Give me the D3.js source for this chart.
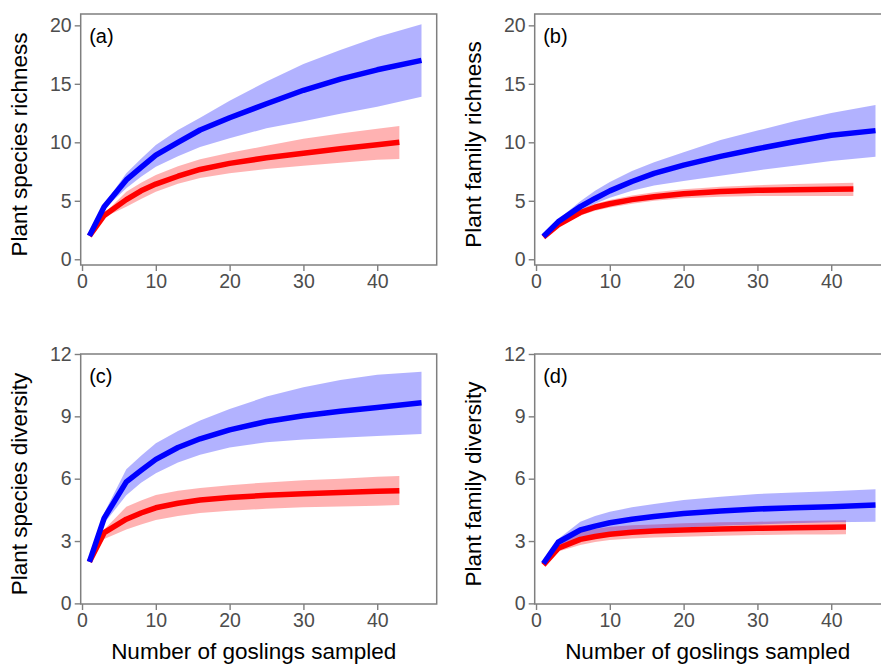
<!DOCTYPE html>
<html>
<head>
<meta charset="utf-8">
<script src="https://cdn.jsdelivr.net/npm/d3@7"></script>
<style>
  body { margin: 0; background: #fff; }
  svg { display: block; font-family: "Liberation Sans", Arial, sans-serif; }
</style>
</head>
<body>
<svg width="881" height="664"></svg>
<script>
// sample sizes (number of goslings) at which the curves were read
const xBlue = [1, 3, 6, 8, 10, 13, 16, 20, 25, 30, 35, 40, 46];
const xRed = [1, 3, 6, 8, 10, 13, 16, 20, 25, 30, 35, 40, 43];
const xRedD = [1, 3, 6, 8, 10, 13, 16, 20, 25, 30, 35, 40, 42];

const xTicks = [0, 10, 20, 30, 40];
const yTicksRich = [0, 5, 10, 15, 20];
const yTicksDiv = [0, 3, 6, 9, 12];

// (a) plant species richness
const aBlue = [2.0, 4.5, 6.78, 7.85, 8.9, 10.0, 11.05, 12.1, 13.3, 14.45, 15.4, 16.2, 17.0];
const aBlueHi = [2.0, 4.7, 7.35, 8.6, 9.77, 11.05, 12.1, 13.55, 15.2, 16.7, 17.9, 19.0, 20.1];
const aBlueLo = [2.0, 4.3, 6.07, 7.05, 7.9, 8.8, 9.6, 10.35, 11.2, 11.8, 12.45, 13.05, 13.9];
const aRed = [2.0, 3.75, 5.1, 5.85, 6.43, 7.1, 7.68, 8.2, 8.68, 9.06, 9.45, 9.8, 10.0];
const aRedHi = [2.0, 3.9, 5.78, 6.55, 7.2, 7.95, 8.55, 9.1, 9.7, 10.3, 10.75, 11.15, 11.4];
const aRedLo = [2.0, 3.6, 4.5, 5.15, 5.78, 6.45, 6.95, 7.35, 7.72, 8.0, 8.25, 8.5, 8.57];

// (b) plant family richness
const bBlue = [1.95, 3.2, 4.5, 5.2, 5.85, 6.65, 7.35, 8.05, 8.8, 9.45, 10.05, 10.6, 11.0];
const bBlueHi = [1.95, 3.4, 4.95, 5.85, 6.6, 7.55, 8.3, 9.15, 10.2, 11.0, 11.8, 12.5, 13.2];
const bBlueLo = [1.95, 3.1, 4.2, 4.75, 5.25, 5.85, 6.3, 6.7, 7.15, 7.6, 8.0, 8.4, 8.77];
const bRed = [1.9, 2.95, 4.0, 4.45, 4.75, 5.1, 5.35, 5.6, 5.8, 5.9, 5.95, 5.98, 6.0];
const bRedHi = [1.9, 3.05, 4.25, 4.75, 5.07, 5.45, 5.72, 5.98, 6.2, 6.33, 6.43, 6.5, 6.55];
const bRedLo = [1.9, 2.85, 3.75, 4.15, 4.42, 4.75, 5.0, 5.22, 5.35, 5.4, 5.42, 5.42, 5.42];

// (c) plant species diversity
const cBlue = [2.0, 4.1, 5.85, 6.4, 6.93, 7.5, 7.92, 8.35, 8.75, 9.03, 9.25, 9.43, 9.65];
const cBlueHi = [2.0, 4.35, 6.45, 7.1, 7.7, 8.3, 8.8, 9.35, 9.95, 10.4, 10.75, 11.0, 11.15];
const cBlueLo = [2.0, 3.85, 5.2, 5.8, 6.26, 6.78, 7.15, 7.5, 7.75, 7.88, 7.97, 8.05, 8.15];
const cRed = [2.0, 3.4, 4.05, 4.35, 4.6, 4.82, 4.97, 5.1, 5.2, 5.28, 5.34, 5.39, 5.42];
const cRedHi = [2.0, 3.55, 4.65, 4.95, 5.21, 5.42, 5.55, 5.69, 5.82, 5.93, 6.0, 6.09, 6.13];
const cRedLo = [2.0, 3.1, 3.56, 3.8, 4.01, 4.2, 4.35, 4.46, 4.55, 4.62, 4.66, 4.7, 4.73];

// (d) plant family diversity
const dBlue = [1.92, 2.94, 3.53, 3.72, 3.88, 4.05, 4.18, 4.33, 4.45, 4.54, 4.6, 4.65, 4.73];
const dBlueHi = [1.92, 3.1, 3.93, 4.2, 4.41, 4.62, 4.78, 4.97, 5.13, 5.26, 5.34, 5.4, 5.49];
const dBlueLo = [1.92, 2.8, 3.1, 3.25, 3.35, 3.48, 3.57, 3.65, 3.73, 3.8, 3.86, 3.9, 3.93];
const dRed = [1.85, 2.65, 3.08, 3.22, 3.33, 3.42, 3.48, 3.53, 3.58, 3.61, 3.64, 3.66, 3.67];
const dRedHi = [1.85, 2.8, 3.45, 3.58, 3.69, 3.76, 3.8, 3.85, 3.9, 3.93, 3.96, 3.99, 4.0];
const dRedLo = [1.85, 2.5, 2.81, 2.95, 3.05, 3.12, 3.17, 3.21, 3.25, 3.29, 3.31, 3.32, 3.33];

const panels = [
  { tag: "(a)", title: "Plant species richness", left: 80.7, top: 14, h: 251,
    yDomain: [-0.49, 20.97], yTicks: yTicksRich, redX: xRed,
    blue: aBlue, blueHi: aBlueHi, blueLo: aBlueLo, red: aRed, redHi: aRedHi, redLo: aRedLo,
    titleX: 27, xTitle: false },
  { tag: "(b)", title: "Plant family richness", left: 534.7, top: 14, h: 251,
    yDomain: [-0.49, 20.97], yTicks: yTicksRich, redX: xRed,
    blue: bBlue, blueHi: bBlueHi, blueLo: bBlueLo, red: bRed, redHi: bRedHi, redLo: bRedLo,
    titleX: 481, xTitle: false },
  { tag: "(c)", title: "Plant species diversity", left: 80.7, top: 354, h: 250,
    yDomain: [-0.03, 12], yTicks: yTicksDiv, redX: xRed,
    blue: cBlue, blueHi: cBlueHi, blueLo: cBlueLo, red: cRed, redHi: cRedHi, redLo: cRedLo,
    titleX: 27, xTitle: true },
  { tag: "(d)", title: "Plant family diversity", left: 534.7, top: 354, h: 250,
    yDomain: [-0.03, 12], yTicks: yTicksDiv, redX: xRedD,
    blue: dBlue, blueHi: dBlueHi, blueLo: dBlueLo, red: dRed, redHi: dRedHi, redLo: dRedLo,
    titleX: 481, xTitle: true },
];

const svg = d3.select("svg");
const panelW = 356;
const gray = "#7f7f7f";
const tickText = "#4d4d4d";

panels.forEach((p) => {
  const x = d3.scaleLinear().domain([-0.18, 48.06]).range([p.left, p.left + panelW]);
  const y = d3.scaleLinear().domain(p.yDomain).range([p.top + p.h, p.top]);

  const g = svg.append("g");

  const band = d3.area()
    .x((d) => x(d.x))
    .y0((d) => y(d.lo))
    .y1((d) => y(d.hi));
  const line = d3.line()
    .x((d) => x(d.x))
    .y((d) => y(d.v));

  const redData = p.redX.map((v, i) => ({ x: v, v: p.red[i], lo: p.redLo[i], hi: p.redHi[i] }));
  const blueData = xBlue.map((v, i) => ({ x: v, v: p.blue[i], lo: p.blueLo[i], hi: p.blueHi[i] }));

  g.append("path").attr("d", band(redData))
    .attr("fill", "#ff0000").attr("fill-opacity", 0.3);
  g.append("path").attr("d", band(blueData))
    .attr("fill", "#0000ff").attr("fill-opacity", 0.3);

  g.append("path").attr("d", line(redData))
    .attr("fill", "none").attr("stroke", "#ff0000")
    .attr("stroke-width", 5.5).attr("stroke-linejoin", "round");
  g.append("path").attr("d", line(blueData))
    .attr("fill", "none").attr("stroke", "#0000ff")
    .attr("stroke-width", 5.5).attr("stroke-linejoin", "round");

  // panel border
  g.append("rect")
    .attr("x", p.left).attr("y", p.top)
    .attr("width", panelW).attr("height", p.h)
    .attr("fill", "none").attr("stroke", gray).attr("stroke-width", 1.5);

  const xAxis = g.append("g")
    .attr("transform", `translate(0,${p.top + p.h})`)
    .call(d3.axisBottom(x).tickValues(xTicks).tickSize(6).tickSizeOuter(0).tickPadding(3));
  const yAxis = g.append("g")
    .attr("transform", `translate(${p.left},0)`)
    .call(d3.axisLeft(y).tickValues(p.yTicks).tickSize(6).tickSizeOuter(0).tickPadding(3));

  [xAxis, yAxis].forEach((ax) => {
    ax.select(".domain").remove();
    ax.selectAll(".tick line").attr("stroke", gray).attr("stroke-width", 1.4);
    ax.selectAll(".tick text")
      .attr("fill", tickText)
      .style("font-size", "19.5px")
      .style("font-family", "'Liberation Sans', Arial, sans-serif");
  });

  g.append("text")
    .attr("x", p.left + 8.5)
    .attr("y", p.top + 28.5)
    .style("font-size", "20px")
    .attr("fill", "#000")
    .text(p.tag);

  g.append("text")
    .attr("transform", `translate(${p.titleX},${p.top + p.h / 2 + 5}) rotate(-90)`)
    .attr("text-anchor", "middle")
    .style("font-size", "22.5px")
    .attr("fill", "#000")
    .text(p.title);

  if (p.xTitle) {
    g.append("text")
      .attr("x", p.left + panelW / 2 - 5)
      .attr("y", 659)
      .attr("text-anchor", "middle")
      .style("font-size", "22.5px")
      .attr("fill", "#000")
      .text("Number of goslings sampled");
  }
});
</script>
</body>
</html>
